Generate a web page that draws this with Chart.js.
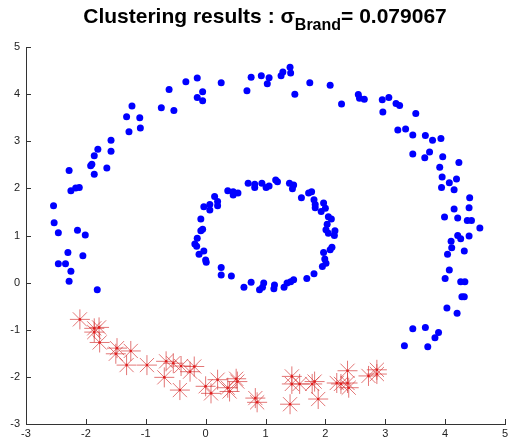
<!DOCTYPE html>
<html>
<head>
<meta charset="utf-8">
<script src="https://cdn.jsdelivr.net/npm/chart.js@4"></script>
<style>
  html, body { margin: 0; padding: 0; background: #fff; }
  #wrap { position: relative; width: 516px; height: 441px; }
  #title {
    position: absolute; left: 0; top: 4px; width: 530px; text-align: center;
    font: bold 21px "Liberation Sans", Arial, sans-serif; color: #000; white-space: nowrap;
  }
  #title sub { font-size: 16px; vertical-align: -7px; line-height: 0; }
  canvas { position: absolute; left: 0; top: 0; }
</style>
</head>
<body>
<div id="wrap">
  <canvas id="chart" width="516" height="441"></canvas>
  <div id="title">Clustering results : σ<sub>Brand</sub>= 0.079067</div>
</div>
<script>
// ticks
const xTicks = [-3, -2, -1, 0, 1, 2, 3, 4, 5];
const yTicks = [-3, -2, -1, 0, 1, 2, 3, 4, 5];

// cluster 1 (blue) - outer ring
const outerX = [-2.28, -2.25, -2.17, -2.11, -1.92, -1.90, -1.86, -1.86, -1.80, -1.65, -1.58, -1.58,
  -1.28, -1.32, -1.23, -1.10, -1.09, -0.74, -0.53, -0.61, -0.33, -0.14, -0.14, -0.05, -0.05, 0.26,
  0.69, 0.76, 0.93, 1.06, 1.03, 1.26, 1.29, 1.41, 1.42, 1.49, 1.74, 2.08, 2.27, 2.55, 2.57, 2.65,
  2.95, 3.06, 3.18, 3.24, 2.96, 3.51, 3.21, 3.34, 3.46, 3.67, 3.79, 3.93, 3.46, 3.74, 3.66, 3.96,
  4.23, 3.91, 3.95, 4.19, 4.07, 3.94, 4.15, 4.41, 4.40, 4.15, 3.99, 4.21, 4.37, 4.44, 4.58, 4.21,
  4.26, 4.40, 4.10, 4.11, 4.32, 4.04, 4.07, 4.00, 4.26, 4.33, 4.28, 4.32, 4.03, 4.20, 3.46, 3.67,
  3.89, 3.83, 3.32, 3.71,
  -2.54, -2.53, -2.46, -2.14, -2.01, -2.30, -2.05, -2.46, -2.34, -2.25, -2.28, -1.81];
const outerY = [2.38, 1.95, 2.01, 2.02, 2.48, 2.51, 2.30, 2.69, 2.83, 2.43, 2.79, 3.02,
  3.20, 3.52, 3.75, 3.50, 3.28, 3.71, 3.65, 4.10, 4.26, 4.34, 3.93, 4.05, 3.86, 4.24,
  4.07, 4.36, 4.39, 4.35, 4.22, 4.39, 4.47, 4.57, 4.45, 4.00, 4.24, 4.19, 3.79, 3.99, 3.91, 3.89,
  3.88, 3.93, 3.80, 3.76, 3.62, 3.59, 3.24, 3.26, 3.13, 3.12, 3.02, 3.06, 2.73, 2.77, 2.65, 2.67,
  2.55, 2.45, 2.24, 2.20, 2.12, 2.02, 1.97, 1.80, 1.59, 1.56, 1.39, 1.37, 1.32, 1.32, 1.16, 1.00,
  0.93, 0.99, 0.88, 0.74, 0.67, 0.60, 0.27, 0.09, 0.02, 0.02, -0.30, -0.30, -0.54, -0.65, -0.98, -0.95,
  -1.06, -1.17, -1.34, -1.36,
  1.63, 1.27, 1.06, 1.11, 1.01, 0.64, 0.57, 0.40, 0.40, 0.24, 0.03, -0.15];

// cluster 1 (blue) - inner ring
const innerX = [0.71, 0.82, 0.82, 0.94, 1.01, 1.06, 1.17, 1.20, 1.40, 1.47, 1.45, 1.60, 1.72, 1.77,
  1.81, 1.83, 1.83, 1.97, 2.00, 1.93, 2.05, 2.10, 2.03, 2.01, 2.16, 2.05, 2.15, 2.11, 2.08, 1.97,
  1.99, 2.01, 1.95, 1.81, 1.69, 1.47, 1.42, 1.36, 1.31, 1.15, 1.14, 0.97, 0.95, 0.90, 0.76, 0.64,
  0.43, 0.26, 0.26, 0.00, 0.01, -0.03, -0.11, -0.15, -0.18, -0.14, -0.08, -0.05, -0.08, 0.07, -0.03,
  0.07, 0.15, 0.20, 0.20, 0.37, 0.46, 0.54, 0.46];
const innerY = [2.11, 2.09, 2.02, 2.11, 2.02, 2.05, 2.18, 2.14, 2.11, 2.07, 1.99, 1.80, 1.90, 1.93,
  1.76, 1.66, 1.59, 1.69, 1.58, 1.51, 1.40, 1.35, 1.24, 1.12, 1.10, 1.05, 1.00, 0.75, 0.70, 0.64,
  0.50, 0.41, 0.34, 0.19, 0.09, 0.06, 0.02, -0.01, -0.10, -0.05, -0.13, -0.01, -0.10, -0.15, 0.01, -0.10,
  0.14, 0.32, 0.16, 0.48, 0.43, 0.67, 0.60, 0.77, 0.82, 0.94, 1.10, 1.13, 1.35, 1.54, 1.61,
  1.66, 1.83, 1.72, 1.63, 1.95, 1.86, 1.90, 1.93];

// cluster 2 (red asterisks)
const redX = [-2.10, -1.86, -1.78, -1.86, -1.77, -1.48, -1.50, -1.25, -1.32, -0.98, -0.66, -0.54,
  -0.41, -0.19, -0.26, -0.69, -0.43, 0.00, 0.09, 0.20, 0.37, 0.40, 0.51, 0.53, 0.83, 0.86,
  1.44, 1.44, 1.57, 1.41, 1.78, 1.82, 1.88, 2.19, 2.26, 2.37, 2.37, 2.39, 2.72, 2.86, 2.86];
const redY = [-0.78, -0.97, -0.95, -1.05, -1.27, -1.39, -1.51, -1.45, -1.75, -1.75, -1.67, -1.71,
  -1.77, -1.78, -1.89, -2.01, -2.28, -2.20, -2.35, -2.06, -2.23, -2.31, -2.04, -2.10, -2.45, -2.54,
  -1.99, -2.15, -2.15, -2.58, -2.15, -2.10, -2.47, -2.13, -2.15, -1.87, -2.13, -2.23, -1.98, -1.85, -1.94];

const toPoints = (xs, ys) => xs.map((x, i) => ({ x: x, y: ys[i] }));
const bluePoints = toPoints(outerX, outerY).concat(toPoints(innerX, innerY));
const redPoints = toPoints(redX, redY);

// petits traits de graduation vers l'intérieur, comme sous MATLAB
const inwardTicks = {
  id: 'inwardTicks',
  afterDraw(chart) {
    const ctx = chart.ctx;
    const xs = chart.scales.x, ys = chart.scales.y;
    ctx.save();
    ctx.strokeStyle = '#333';
    ctx.lineWidth = 1;
    ctx.beginPath();
    xTicks.forEach(v => {
      const px = Math.round(xs.getPixelForValue(v)) + 0.5;
      ctx.moveTo(px, ys.bottom);
      ctx.lineTo(px, ys.bottom - 5);
    });
    yTicks.forEach(v => {
      const py = Math.round(ys.getPixelForValue(v)) + 0.5;
      ctx.moveTo(xs.left, py);
      ctx.lineTo(xs.left + 5, py);
    });
    ctx.stroke();
    ctx.restore();
  }
};

const tickFont = { family: '"Liberation Sans", Arial, sans-serif', size: 11 };

new Chart(document.getElementById('chart'), {
  type: 'scatter',
  data: {
    datasets: [
      {
        label: 'centres',
        data: redPoints,
        pointStyle: 'circle',
        pointRadius: 1.3,
        backgroundColor: 'rgb(225,30,30)',
        borderWidth: 0
      },
      {
        label: 'cluster 2',
        data: redPoints,
        pointStyle: 'star',
        pointRadius: 10,
        borderColor: 'rgba(215,60,60,0.7)',
        backgroundColor: 'transparent',
        borderWidth: 1
      },
      {
        label: 'cluster 1',
        data: bluePoints,
        pointStyle: 'circle',
        pointRadius: 3.5,
        backgroundColor: '#0000ff',
        borderColor: '#0000ff',
        borderWidth: 0
      }
    ]
  },
  options: {
    responsive: false,
    animation: false,
    layout: { padding: { top: 47, right: 6, left: 0, bottom: 0 } },
    plugins: {
      legend: { display: false },
      tooltip: { enabled: false }
    },
    scales: {
      x: {
        type: 'linear',
        min: -3,
        max: 5,
        afterBuildTicks: s => { s.ticks = xTicks.map(v => ({ value: v })); },
        afterFit: s => { s.height = 17; },
        grid: { drawOnChartArea: false, drawTicks: false },
        border: { display: true, color: '#333', width: 1 },
        ticks: { color: '#222', font: tickFont, padding: 3, maxRotation: 0 }
      },
      y: {
        type: 'linear',
        min: -3,
        max: 5,
        afterBuildTicks: s => { s.ticks = yTicks.map(v => ({ value: v })); },
        afterFit: s => { s.width = 26; },
        grid: { drawOnChartArea: false, drawTicks: false },
        border: { display: true, color: '#333', width: 1 },
        ticks: { color: '#222', font: tickFont, padding: 6 }
      }
    }
  },
  plugins: [inwardTicks]
});
</script>
</body>
</html>
